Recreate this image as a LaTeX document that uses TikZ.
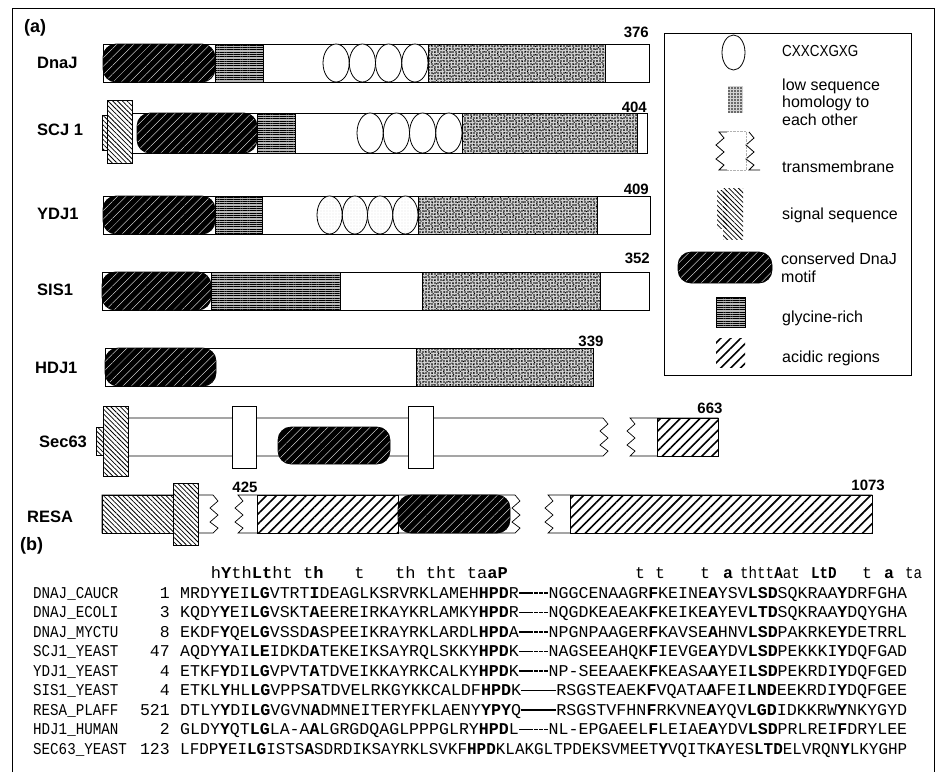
\documentclass[tikz,border=0pt]{standalone}
\usepackage{fontspec}
\usepackage{graphicx}
\setmainfont{Liberation Sans}
\newfontfamily\seqf{Liberation Mono}
\usetikzlibrary{patterns,patterns.meta}
\newcommand\sqb[1]{\textbf{#1}}
\newcommand\sqg{\makebox[0.3em][c]{\rule[0.27em]{0.27em}{0.07em}}}
\newcommand\sqs{\phantom{M}}
\newcommand\seqrow[1]{\resizebox{727pt}{\height}{\seqf\fontsize{16.5}{18}\selectfont #1}}
\newcommand\seqtxt{\seqf\fontsize{16.5}{18}\selectfont}
\newcommand\nmx[1]{\scalebox{0.86}[1]{#1}}
\begin{document}
\begin{tikzpicture}[x=1pt,y=-1pt,
  lab/.style={font=\fontsize{16.5}{18}\selectfont\bfseries, inner sep=0, anchor=west},
  plab/.style={font=\fontsize{18}{20}\selectfont\bfseries, inner sep=0, anchor=west},
  num/.style={font=\fontsize{15}{16}\selectfont\bfseries, inner sep=0},
  leg/.style={font=\fontsize{16}{17.5}\selectfont, inner sep=0, anchor=west, align=left},
  seqn/.style={inner sep=0, anchor=base west, font=\seqtxt},
  seqk/.style={inner sep=0, anchor=base east, font=\seqtxt},
  seqs/.style={inner sep=0, anchor=base west},
  bar/.style={draw=black, line width=0.7pt, fill=white},
  motif/.style={draw=black, line width=0.7pt, rounded corners=13pt, preaction={fill=black},
    pattern={Lines[angle=45,distance=6pt,line width=0.35pt]}, pattern color=white},
  gly/.style={draw=black, line width=0.7pt, preaction={fill=gray!55},
    pattern={Lines[angle=0,distance=2.3pt,line width=0.8pt]}, pattern color=black},
  stip/.style={draw=black, line width=0.7pt, preaction={fill=gray!35},
    pattern={Dots[distance=3pt,radius=0.85pt]}, pattern color=black,
    postaction={pattern={Dots[distance=3.7pt,radius=0.7pt,angle=27]}, pattern color=black}},
  acid/.style={draw=black, line width=0.7pt, preaction={fill=white},
    pattern={Lines[angle=45,distance=7pt,line width=1.6pt]}},
  sig/.style={draw=black, line width=0.6pt, preaction={fill=white},
    pattern={Lines[angle=-45,distance=3.4pt,line width=0.8pt]}},
  cxx/.style={draw=black, line width=0.8pt, fill=white},
  cxxg/.style={draw=black, line width=0.8pt, preaction={fill=white},
    pattern={Dots[distance=3pt,radius=0.45pt]}, pattern color=gray!60},
  tmb/.style={draw=black, line width=0.7pt, fill=white},
  zd/.style={insert path={-- ++(5,6) -- ++(-8,7) -- ++(8,7) -- ++(-8,7) -- ++(8,6) -- ++(-5,5)}},
  zu/.style={insert path={-- ++(5,-5) -- ++(-8,-6) -- ++(8,-7) -- ++(-8,-7) -- ++(8,-7) -- ++(-5,-6)}}
]
\useasboundingbox (0,0) rectangle (938,772);
% outer frame
\draw[line width=0.9pt] (12,772) -- (12,8) -- (934,8) -- (934,772);
\node[plab] (pa) at (24,28) {(a)};

% DnaJ
\node[lab] (lDnaJ) at (37,63) {DnaJ};
\draw[bar] (103,44) rectangle (649,82);
\draw[motif] (103,44) rectangle (215,82);
\draw[gly] (215,44) rectangle (263,82);
\foreach \c in {336.1,362.4,388.6,414.9} \draw[cxx] (\c,63) ellipse [x radius=13.1, y radius=19];
\draw[stip] (428,44) rectangle (605,82);
\node[num,anchor=east] (n376) at (649,32) {376};

% SCJ1
\node[lab] (lSCJ) at (37,130) {SCJ 1};
\draw[bar] (132,113) rectangle (647,153);
\draw[motif] (137,113) rectangle (257,153);
\draw[gly] (257,113) rectangle (295,153);
\foreach \c in {370.1,396.4,422.6,448.9} \draw[cxx] (\c,133) ellipse [x radius=13.1, y radius=20];
\draw[stip] (462,113) rectangle (637,153);
\draw[sig] (102,115) rectangle (110,150);
\draw[sig] (107,100) rectangle (132,163);
\node[num,anchor=east] (n404) at (647,107) {404};

% YDJ1
\node[lab] (lYDJ) at (37,214) {YDJ1};
\draw[bar] (103,196) rectangle (650,234);
\draw[motif] (103,196) rectangle (215,234);
\draw[gly] (215,196) rectangle (262,234);
\foreach \c in {329.6,354.9,380.1,405.4} \draw[cxxg] (\c,215) ellipse [x radius=12.6, y radius=19];
\draw[stip] (418,196) rectangle (597,234);
\node[num,anchor=east] (n409) at (649,189) {409};

% SIS1
\node[lab] (lSIS) at (37,290) {SIS1};
\draw[bar] (102,272) rectangle (649,310);
\draw[motif] (102,272) rectangle (211,310);
\draw[gly] (211,272) rectangle (340,310);
\draw[stip] (422,272) rectangle (600,310);
\node[num,anchor=east] (n352) at (650,258) {352};

% HDJ1
\node[lab] (lHDJ) at (35,368) {HDJ1};
\draw[bar] (105,348) rectangle (593,386);
\draw[motif] (105,348) rectangle (216,386);
\draw[stip] (416,348) rectangle (593,386);
\node[num] (n339) at (591,341) {339};

% Sec63
\node[lab] (lSec) at (39,442) {Sec63};
\draw[bar] (128,456) -- (128,418) -- (603,418) [zd] -- cycle;
\draw[tmb] (232,406) rectangle (256,468);
\draw[tmb] (408,406) rectangle (433,468);
\draw[motif] (278,427) rectangle (390,464);
\draw[sig] (96,427) rectangle (103,455);
\draw[sig] (103,406) rectangle (128,476);
\draw[bar] (630,418) [zd] -- (718,456) -- (718,418) -- cycle;
\draw[acid] (657,418) rectangle (718,456);
\node[num] (n663) at (710,408) {663};

% RESA
\node[lab] (lRESA) at (27,517) {RESA};
\draw[bar] (102,533) -- (102,495) -- (213,495) [zd] -- cycle;
\draw[sig] (102,495) rectangle (173,533);
\draw[sig] (173,483) rectangle (198,545);
\draw[bar] (238,495) -- (515,495) [zd] -- (238,533) [zu] -- cycle;
\draw[acid] (257,495) rectangle (398,533);
\draw[motif] (398,495) rectangle (510,533);
\draw[bar] (548,495) [zd] -- (872,533) -- (872,495) -- cycle;
\draw[acid] (570,495) rectangle (872,533);
\node[num] (n425) at (245,487) {425};
\node[num,anchor=east] (n1073) at (885,485) {1073};

% legend
\draw[line width=0.8pt] (664,33) rectangle (911,375);
\draw[cxx] (733.5,52.5) ellipse [x radius=11.5, y radius=17.5];
\node[leg] (tCXX) at (782,51) {\scalebox{0.84}[1]{CXXCXGXG}};
\path[pattern={Dots[distance=3pt,radius=0.85pt]}, preaction={fill=gray!35}] (728,86) rectangle (743,113);
\node[leg] (tLow) at (782,102) {low sequence\\homology to\\each other};
\draw[line width=0.8pt] (727,132) -- (719,132) [zd] -- (727,170);
\draw[line width=0.8pt] (749,132) [zd] -- (760,170);
\draw[gray!60, densely dotted] (727,131) -- (746,131) -- (746,170) (727,170) -- (746,170);
\node[leg] (tTM) at (782,167) {transmembrane};
\path[pattern={Lines[angle=-45,distance=3.4pt,line width=0.8pt]}] (717,190) rectangle (727,228);
\path[pattern={Lines[angle=-45,distance=3.4pt,line width=0.8pt]}] (723,188) rectangle (743,239);
\node[leg] (tSig) at (782,215) {signal sequence};
\draw[motif] (678,252) rectangle (772,283);
\node[leg] (tMot) at (781,268) {conserved DnaJ\\motif};
\draw[gly] (716,297) rectangle (745,327);
\node[leg] (tGly) at (782,318) {glycine-rich};
\path[pattern={Lines[angle=45,distance=7pt,line width=1.6pt]}] (716,338) rectangle (745,367);
\node[leg] (tAcid) at (782,358) {acidic regions};

% (b) alignment
\node[plab] (pb) at (20,546) {(b)};
% consensus, first half aligned with the columns
\node[seqs] (cons) at (180,578) {\seqrow{\sqs\sqs\sqs h\sqb{Y}th\sqb{Lt}ht\sqs t\sqb{h}\sqs\sqs\sqs t\sqs\sqs\sqs th\sqs tht\sqs ta\sqb{aP}\sqs\sqs\sqs\sqs\sqs\sqs\sqs\sqs\sqs\sqs\sqs\sqs\sqs\sqs\sqs\sqs\sqs\sqs\sqs\sqs\sqs\sqs\sqs\sqs\sqs\sqs\sqs\sqs\sqs\sqs\sqs\sqs\sqs\sqs\sqs\sqs\sqs\sqs\sqs}};
% consensus, second half as printed
\node[seqn] (c1) at (635,578) {t};
\node[seqn] (c2) at (655,578) {t};
\node[seqn] (c3) at (700,578) {t};
\node[seqn] (c4) at (723,578) {\textbf{a}};
\node[seqn] (c5) at (740,578) {\nmx{thtt\textbf{A}at}};
\node[seqn] (c6) at (811,578) {\nmx{\textbf{LtD}}};
\node[seqn] (c7) at (862,578) {t};
\node[seqn] (c8) at (884,578) {\textbf{a}};
\node[seqn] (c9) at (905,578) {\nmx{ta}};

\node[seqn] (nm1) at (33,598) {\nmx{DNAJ\_CAUCR}};
\node[seqk] (k1) at (170,598) {1};
\node[seqs] (s1) at (180,598) {\seqrow{MRDY\sqb{Y}EI\sqb{LG}VTRT\sqb{I}DEAGLKSRVRKLAMEH\sqb{HPD}R\sqg\sqg\sqg\sqg\sqg\sqg NGGCENAAGR\sqb{F}KEINE\sqb{A}YSV\sqb{LSD}SQKRAA\sqb{Y}DRFGHA}};

\node[seqn] (nm2) at (33,617.5) {\nmx{DNAJ\_ECOLI}};
\node[seqk] (k2) at (170,617.5) {3};
\node[seqs] (s2) at (180,617.5) {\seqrow{KQDY\sqb{Y}EI\sqb{LG}VSKT\sqb{A}EEREIRKAYKRLAMKY\sqb{HPD}R\sqg\sqg\sqg\sqg\sqg\sqg NQGDKEAEAK\sqb{F}KEIKE\sqb{A}YEV\sqb{LTD}SQKRAA\sqb{Y}DQYGHA}};

\node[seqn] (nm3) at (33,637) {\nmx{DNAJ\_MYCTU}};
\node[seqk] (k3) at (170,637) {8};
\node[seqs] (s3) at (180,637) {\seqrow{EKDF\sqb{Y}QE\sqb{LG}VSSD\sqb{A}SPEEIKRAYRKLARDL\sqb{HPD}A\sqg\sqg\sqg\sqg\sqg\sqg NPGNPAAGER\sqb{F}KAVSE\sqb{A}HNV\sqb{LSD}PAKRKE\sqb{Y}DETRRL}};

\node[seqn] (nm4) at (33,656.5) {\nmx{SCJ1\_YEAST}};
\node[seqk] (k4) at (170,656.5) {47};
\node[seqs] (s4) at (180,656.5) {\seqrow{AQDY\sqb{Y}AI\sqb{LE}IDKD\sqb{A}TEKEIKSAYRQLSKKY\sqb{HPD}K\sqg\sqg\sqg\sqg\sqg\sqg NAGSEEAHQK\sqb{F}IEVGE\sqb{A}YDV\sqb{LSD}PEKKKI\sqb{Y}DQFGAD}};

\node[seqn] (nm5) at (33,676) {\nmx{YDJ1\_YEAST}};
\node[seqk] (k5) at (170,676) {4};
\node[seqs] (s5) at (180,676) {\seqrow{ETKF\sqb{Y}DI\sqb{LG}VPVT\sqb{A}TDVEIKKAYRKCALKY\sqb{HPD}K\sqg\sqg\sqg\sqg\sqg\sqg NP-SEEAAEK\sqb{F}KEASA\sqb{A}YEI\sqb{LSD}PEKRDI\sqb{Y}DQFGED}};

\node[seqn] (nm6) at (33,695.5) {\nmx{SIS1\_YEAST}};
\node[seqk] (k6) at (170,695.5) {4};
\node[seqs] (s6) at (180,695.5) {\seqrow{ETKL\sqb{Y}HL\sqb{LG}VPPS\sqb{A}TDVELRKGYKKCALDF\sqb{HPD}K\sqg\sqg\sqg\sqg\sqg\sqg\sqg RSGSTEAEK\sqb{F}VQATA\sqb{A}FEI\sqb{LND}EEKRDI\sqb{Y}DQFGEE}};

\node[seqn] (nm7) at (33,715) {\nmx{RESA\_PLAFF}};
\node[seqk] (k7) at (170,715) {521};
\node[seqs] (s7) at (180,715) {\seqrow{DTLY\sqb{Y}DI\sqb{LG}VGVN\sqb{A}DMNEITERYFKLAENY\sqb{YPY}Q\sqg\sqg\sqg\sqg\sqg\sqg\sqg RSGSTVFHN\sqb{F}RKVNE\sqb{A}YQV\sqb{LGD}IDKKRW\sqb{Y}NKYGYD}};

\node[seqn] (nm8) at (33,734.5) {\nmx{HDJ1\_HUMAN}};
\node[seqk] (k8) at (170,734.5) {2};
\node[seqs] (s8) at (180,734.5) {\seqrow{GLDY\sqb{Y}QT\sqb{LG}LA-A\sqb{A}LGRGDQAGLPPPGLRY\sqb{HPD}L\sqg\sqg\sqg\sqg\sqg\sqg NL-EPGAEEL\sqb{F}LEIAE\sqb{A}YDV\sqb{LSD}PRLREI\sqb{F}DRYLEE}};

\node[seqn] (nm9) at (33,754) {\nmx{SEC63\_YEAST}};
\node[seqk] (k9) at (170,754) {123};
\node[seqs] (s9) at (180,754) {\seqrow{LFDP\sqb{Y}EI\sqb{LG}ISTS\sqb{A}SDRDIKSAYRKLSVKF\sqb{HPD}KLAKGLTPDEKSVMEET\sqb{Y}VQITK\sqb{A}YES\sqb{LTD}ELVRQN\sqb{Y}LKYGHP}};
\end{tikzpicture}
\end{document}
